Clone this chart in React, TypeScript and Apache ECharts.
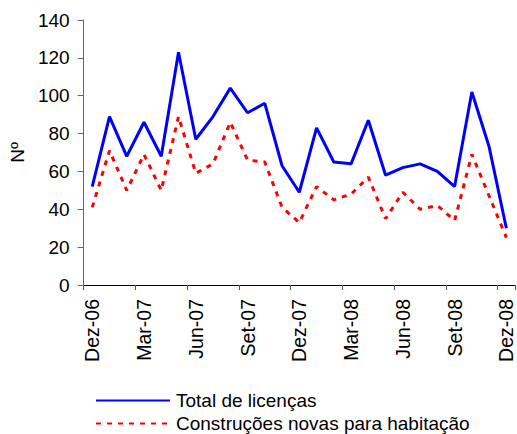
import React, { useEffect, useRef } from "react";
import * as echarts from "echarts";

const categories = [
  "Dez-06", "Jan-07", "Fev-07", "Mar-07", "Abr-07", "Mai-07", "Jun-07", "Jul-07", "Ago-07",
  "Set-07", "Out-07", "Nov-07", "Dez-07", "Jan-08", "Fev-08", "Mar-08", "Abr-08", "Mai-08",
  "Jun-08", "Jul-08", "Ago-08", "Set-08", "Out-08", "Nov-08", "Dez-08",
];
const totalLicencas = [52, 89, 68, 86, 68, 123, 77, 89, 104, 91, 96, 63, 49, 83, 65, 64, 87, 58, 62, 64, 60, 52, 102, 73, 30];
const construcoesNovas = [41, 71, 50, 69, 50, 89, 59, 64, 86, 66, 65, 41, 33, 52, 45, 48, 57, 35, 49, 40, 42, 34, 69, 47, 25];
const seriesNames = ["Total de licenças", "Construções novas para habitação"];
const yAxisName = "Nº";

const FONT = "'Liberation Sans', Arial, sans-serif";

const legendBase = {
  orient: "horizontal",
  left: 90,
  itemWidth: 74,
  itemHeight: 14,
  itemStyle: { opacity: 0 },
  textStyle: { fontFamily: FONT, fontSize: 19, color: "#000", padding: [0, 0, 0, 1] },
};

export default function App() {
  const ref = useRef<HTMLDivElement>(null);
  useEffect(() => {
    if (!ref.current) return;
    const chart = echarts.init(ref.current, undefined, { renderer: "svg" });
    chart.setOption({
      animation: false,
      backgroundColor: "#ffffff",
      textStyle: { fontFamily: FONT },
      grid: { left: 77, top: 20, right: 2, bottom: 149, containLabel: false },
      legend: [
        { ...legendBase, top: 386, data: [seriesNames[0]] },
        { ...legendBase, top: 409, data: [seriesNames[1]] },
      ],
      xAxis: {
        type: "category",
        data: categories,
        boundaryGap: true,
        axisLine: { lineStyle: { color: "#000", width: 1 } },
        axisTick: { show: true, interval: 2, length: 5, lineStyle: { color: "#555" } },
        axisLabel: {
          interval: 2,
          rotate: 90,
          margin: 14,
          fontFamily: FONT,
          fontSize: 19.5,
          color: "#000",
        },
        splitLine: { show: false },
      },
      yAxis: {
        type: "value",
        min: 0,
        max: 140,
        interval: 20,
        name: yAxisName,
        nameLocation: "middle",
        nameGap: 46,
        nameRotate: 90,
        nameTextStyle: { fontFamily: FONT, fontSize: 19, color: "#000" },
        axisLine: { show: true, lineStyle: { color: "#666", width: 1 } },
        axisTick: { show: true, length: 6, lineStyle: { color: "#666" } },
        axisLabel: { fontFamily: FONT, fontSize: 19, color: "#000", margin: 14 },
        splitLine: { show: false },
      },
      series: [
        {
          name: seriesNames[0],
          type: "line",
          data: totalLicencas,
          symbol: "none",
          lineStyle: { color: "#0000ff", width: 3 },
          itemStyle: { color: "#0000ff" },
        },
        {
          name: seriesNames[1],
          type: "line",
          data: construcoesNovas,
          symbol: "none",
          lineStyle: { color: "#ff0000", width: 3, type: [5, 6] },
          itemStyle: { color: "#ff0000" },
        },
      ],
    });
    return () => chart.dispose();
  }, []);
  return (
    <div
      ref={ref}
      style={{ position: "fixed", left: 0, top: 0, width: 517, height: 434 }}
    />
  );
}
